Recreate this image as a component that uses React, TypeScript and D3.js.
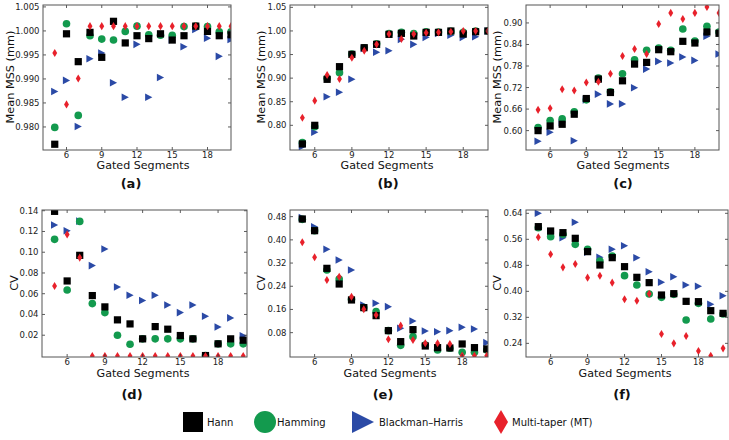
import React from "react";
import * as d3 from "d3";

const segments = [5, 6, 7, 8, 9, 10, 11, 12, 13, 14, 15, 16, 17, 18, 19, 20];
const xTicks = [6, 9, 12, 15, 18];

const seriesNames = ["Hann", "Hamming", "Blackman\u2013Harris", "Multi-taper (MT)"];

// (a) Mean MSS
const aHann = [0.9764, 0.9994, 0.9936, 0.9997, 0.9945, 1.002, 0.9975, 0.999, 0.9984, 0.9994, 0.9981, 0.999, 1.001, 0.9999, 0.999, 0.9992];
const aHamming = [0.9799, 1.0015, 0.9824, 0.999, 0.9983, 0.9981, 0.9999, 1.001, 0.9992, 0.9991, 0.9991, 1.0009, 1.001, 1.0009, 0.9998, 0.9998];
const aBH = [0.9874, 0.9897, 0.9801, 0.9942, 0.9954, 0.9892, 0.9862, 0.9972, 0.9862, 0.9903, 0.9981, 0.9967, 1.0003, 0.9985, 0.9947, 0.9982];
const aMT = [0.9954, 0.9847, 0.9901, 1.001, 1.001, 1.001, 1.001, 1.001, 1.001, 1.001, 1.001, 1.001, 1.001, 1.001, 1.001, 1.001];
const aTicks = [0.98, 0.985, 0.99, 0.995, 1.0, 1.005];

// (b) Mean MSS
const bHann = [0.7605, 0.8, 0.8975, 0.9243, 0.9504, 0.9645, 0.9716, 0.9928, 0.9949, 0.9893, 0.997, 0.997, 0.9999, 0.9935, 0.9984, 0.9999];
const bHamming = [0.7633, 0.7972, 0.8996, 0.9116, 0.9511, 0.9645, 0.973, 0.9942, 0.997, 0.9942, 0.9984, 0.9977, 0.9991, 0.997, 0.9999, 0.9999];
const bBH = [0.7548, 0.7852, 0.8607, 0.8699, 0.8975, 0.9631, 0.9547, 0.9582, 0.9822, 0.9716, 0.9864, 0.9949, 0.9907, 0.9864, 0.9879, 0.9999];
const bMT = [0.8162, 0.8523, 0.9066, 0.8982, 0.9434, 0.9582, 0.9716, 0.9935, 0.9829, 0.9935, 0.9963, 0.997, 0.9984, 0.9999, 0.9999, 0.9999];
const bTicks = [0.8, 0.85, 0.9, 0.95, 1.0, 1.05];

// (c) Mean MSS
const cHann = [0.6, 0.613, 0.6177, 0.6457, 0.6894, 0.7435, 0.7062, 0.7388, 0.7854, 0.7901, 0.8255, 0.8199, 0.8488, 0.8441, 0.8748, 0.8711];
const cHamming = [0.6084, 0.6279, 0.6326, 0.6522, 0.6857, 0.7463, 0.7081, 0.7584, 0.7975, 0.8236, 0.8301, 0.8236, 0.8832, 0.8497, 0.8907, 0.8748];
const cBH = [0.5702, 0.5953, 0.6224, 0.572, 0.6857, 0.7016, 0.6745, 0.6745, 0.7193, 0.7714, 0.7929, 0.7882, 0.805, 0.7957, 0.8627, 0.8134];
const cMT = [0.6578, 0.6624, 0.7155, 0.7118, 0.7342, 0.736, 0.7584, 0.8078, 0.8273, 0.8134, 0.8972, 0.928, 0.9112, 0.928, 0.9447, 0.928];
const cTicks = [0.6, 0.66, 0.72, 0.78, 0.84, 0.9];

// (d) CV
const dHann = [0.1394, 0.0723, 0.097, 0.0582, 0.0473, 0.0348, 0.0309, 0.0165, 0.0283, 0.0258, 0.0197, 0.0165, 0.0004, 0.0117, 0.0165, 0.0152];
const dHamming = [0.1124, 0.0636, 0.1297, 0.0505, 0.0418, 0.02, 0.0113, 0.0165, 0.0165, 0.0165, 0.0165, 0.0165, 0.0004, 0.0117, 0.0117, 0.0117];
const dBH = [0.1262, 0.1207, 0.13, 0.0871, 0.1031, 0.0665, 0.0585, 0.0534, 0.0585, 0.0492, 0.0418, 0.0492, 0.0383, 0.028, 0.0367, 0.0194];
const dMT = [0.0675, 0.1172, 0.0948, 0, 0, 0, 0, 0, 0, 0, 0, 0, 0, 0, 0, 0];
const dTicks = [0.02, 0.04, 0.06, 0.08, 0.1, 0.12, 0.14];

// (e) CV
const eHann = [0.472, 0.4317, 0.3018, 0.2478, 0.1927, 0.1662, 0.1386, 0.0869, 0.049, 0.0904, 0.034, 0.0283, 0.0271, 0.0409, 0.0283, 0.0237];
const eHamming = [0.4708, 0.4317, 0.2961, 0.2651, 0.195, 0.1662, 0.1524, 0.0869, 0.0363, 0.0662, 0.0375, 0.0202, 0.026, 0.012, 0.0122, 0.0202];
const eBH = [0.4766, 0.4455, 0.3674, 0.3306, 0.2961, 0.1754, 0.1812, 0.1697, 0.0949, 0.1202, 0.0857, 0.0834, 0.0869, 0.0984, 0.0927, 0.0455];
const eMT = [0.3915, 0.3398, 0.2616, 0.2731, 0.2041, 0.1605, 0.1409, 0.057, 0.1042, 0.0547, 0.0432, 0.0432, 0.0409, 0.0007, 0.0, 0.0];
const eTicks = [0.08, 0.16, 0.24, 0.32, 0.4, 0.48];

// (f) CV
const fHann = [0.599, 0.5856, 0.5805, 0.5631, 0.5221, 0.481, 0.5036, 0.4759, 0.4431, 0.4267, 0.3887, 0.3928, 0.3692, 0.3682, 0.3405, 0.3323];
const fHamming = [0.5959, 0.5682, 0.5754, 0.5446, 0.5292, 0.4933, 0.5087, 0.4482, 0.4195, 0.3918, 0.3815, 0.3908, 0.3118, 0.3631, 0.3149, 0.3303];
const fBH = [0.64, 0.5836, 0.5651, 0.6123, 0.52, 0.5046, 0.5292, 0.5405, 0.5036, 0.4605, 0.4277, 0.4451, 0.4195, 0.4154, 0.36, 0.3867];
const fMT = [0.5662, 0.5138, 0.4738, 0.4841, 0.4421, 0.4482, 0.4267, 0.3754, 0.3713, 0.3928, 0.2687, 0.24, 0.2626, 0.2164, 0.202, 0.2246];
const fTicks = [0.24, 0.32, 0.4, 0.48, 0.56, 0.64];

const COLORS = ["#000000", "#139a4e", "#2b4aa6", "#e8212b"];
const FONT = "DejaVu Sans, Verdana, sans-serif";

type Panel = {
  id: string;
  label: string;
  yLabel: string;
  series: number[][];
  ticks: number[];
  fmt: string;
  box: [number, number, number, number]; // left, right, top, bottom
  xMax: number;
  yDom: [number, number];
  yLabelX: number;
  yLabelY: number;
  xLabelCx: number;
  xLabelY: number;
  pLabelCx: number;
  pLabelY: number;
};

const panels: Panel[] = [
  { id: "a", label: "(a)", yLabel: "Mean MSS (mm)", series: [aHann, aHamming, aBH, aMT], ticks: aTicks, fmt: ".3f",
    box: [43, 231, 5, 150], xMax: 20, yDom: [0.9752, 1.0054], yLabelX: 14, yLabelY: 77, xLabelCx: 143, xLabelY: 168.5, pLabelCx: 131, pLabelY: 188 },
  { id: "b", label: "(b)", yLabel: "Mean MSS (mm)", series: [bHann, bHamming, bBH, bMT], ticks: bTicks, fmt: ".2f",
    box: [290, 488, 5, 150], xMax: 20, yDom: [0.7477, 1.055], yLabelX: 265, yLabelY: 77, xLabelCx: 387, xLabelY: 168.5, pLabelCx: 388, pLabelY: 188 },
  { id: "c", label: "(c)", yLabel: "Mean MSS (mm)", series: [cHann, cHamming, cBH, cMT], ticks: cTicks, fmt: ".2f",
    box: [526, 719, 5, 150], xMax: 20, yDom: [0.546, 0.95], yLabelX: 501, yLabelY: 77, xLabelCx: 623, xLabelY: 168.5, pLabelCx: 623, pLabelY: 188 },
  { id: "d", label: "(d)", yLabel: "CV", series: [dHann, dHamming, dBH, dMT], ticks: dTicks, fmt: ".2f",
    box: [42, 247, 210, 357], xMax: 20.3, yDom: [-0.001, 0.1407], yLabelX: 17.5, yLabelY: 283, xLabelCx: 143, xLabelY: 376.5, pLabelCx: 132, pLabelY: 399 },
  { id: "e", label: "(e)", yLabel: "CV", series: [eHann, eHamming, eBH, eMT], ticks: eTicks, fmt: ".2f",
    box: [290, 488, 210, 357], xMax: 20.1, yDom: [-0.004, 0.503], yLabelX: 265, yLabelY: 283, xLabelCx: 390, xLabelY: 376.5, pLabelCx: 383, pLabelY: 399 },
  { id: "f", label: "(f)", yLabel: "CV", series: [fHann, fHamming, fBH, fMT], ticks: fTicks, fmt: ".2f",
    box: [526, 728, 210, 357], xMax: 20.4, yDom: [0.198, 0.6502], yLabelX: 501, yLabelY: 283, xLabelCx: 625, xLabelY: 376.5, pLabelCx: 622, pLabelY: 399 },
];

function marker(kind: number, x: number, y: number, s: number, key: string) {
  const c = COLORS[kind];
  if (kind === 0) return <rect key={key} x={x - s / 2} y={y - s / 2} width={s} height={s} fill={c} />;
  if (kind === 1) return <circle key={key} cx={x} cy={y} r={s * 0.53} fill={c} />;
  if (kind === 2) {
    const w = s * 1.0, h = s * 1.05;
    return <path key={key} d={`M${x - w / 2},${y - h / 2}L${x + w / 2},${y}L${x - w / 2},${y + h / 2}Z`} fill={c} />;
  }
  const w = s * 0.68, h = s * 1.12;
  return <path key={key} d={`M${x},${y - h / 2}L${x + w / 2},${y}L${x},${y + h / 2}L${x - w / 2},${y}Z`} fill={c} />;
}

const drawOrder = [2, 1, 0, 3];

function PanelView({ p }: { p: Panel }) {
  const [l, r, t, b] = p.box;
  const x = d3.scaleLinear().domain([4, p.xMax]).range([l, r]);
  const y = d3.scaleLinear().domain(p.yDom).range([b, t]);
  const f = d3.format(p.fmt);
  const tl = 3;
  return (
    <g>
      <defs>
        <clipPath id={`clip-${p.id}`}>
          <rect x={l} y={t} width={r - l} height={b - t} />
        </clipPath>
      </defs>
      <rect x={l} y={t} width={r - l} height={b - t} fill="#fff" />
      <g clipPath={`url(#clip-${p.id})`}>
        {drawOrder.map((k) =>
          p.series[k].map((v, i) => marker(k, x(segments[i]), y(v), 7.2, `${p.id}-${k}-${i}`))
        )}
      </g>
      {xTicks.map((tv) => (
        <g key={`xt${tv}`}>
          <line x1={x(tv)} x2={x(tv)} y1={b} y2={b - tl} stroke="#333" strokeWidth={0.8} />
          <line x1={x(tv)} x2={x(tv)} y1={t} y2={t + tl} stroke="#333" strokeWidth={0.8} />
          <text x={x(tv)} y={b + 7.8} textAnchor="middle" fontSize={8.5} fill="#222" fontFamily={FONT}>{tv}</text>
        </g>
      ))}
      {p.ticks.map((tv) => (
        <g key={`yt${tv}`}>
          <line x1={l} x2={l + tl} y1={y(tv)} y2={y(tv)} stroke="#333" strokeWidth={0.8} />
          <line x1={r} x2={r - tl} y1={y(tv)} y2={y(tv)} stroke="#333" strokeWidth={0.8} />
          <text x={l - 3.5} y={y(tv)} dy="0.35em" textAnchor="end" fontSize={8.5} fill="#222" fontFamily={FONT}>{f(tv)}</text>
        </g>
      ))}
      <rect x={l} y={t} width={r - l} height={b - t} fill="none" stroke="#555" strokeWidth={1} />
      <text x={p.xLabelCx} y={p.xLabelY} textAnchor="middle" fontSize={11.1} fill="#111" fontFamily={FONT}>Gated Segments</text>
      <text transform={`translate(${p.yLabelX},${p.yLabelY}) rotate(-90)`} textAnchor="middle" fontSize={11.3} fill="#111" fontFamily={FONT}>{p.yLabel}</text>
      <text x={p.pLabelCx} y={p.pLabelY} textAnchor="middle" fontSize={13} fontWeight="bold" fill="#111" fontFamily={FONT}>{p.label}</text>
    </g>
  );
}

export default function App() {
  const legendX = [183, 254, 352, 494];
  const textX = [207, 277, 379, 512];
  const ly = 422;
  return (
    <svg width={729} height={440} style={{ position: "absolute", left: 0, top: 0, background: "#fff" }}>
      <rect x={0} y={0} width={729} height={440} fill="#fff" />
      {panels.map((p) => <PanelView key={p.id} p={p} />)}
      <g>
        <rect x={legendX[0]} y={ly - 10} width={20} height={20} fill={COLORS[0]} />
        <circle cx={legendX[1] + 11} cy={ly} r={11} fill={COLORS[1]} />
        <path d={`M${legendX[2]},${ly - 11}L${legendX[2] + 22},${ly}L${legendX[2]},${ly + 11}Z`} fill={COLORS[2]} />
        <path d={`M${legendX[3] + 7},${ly - 12}L${legendX[3] + 14},${ly}L${legendX[3] + 7},${ly + 12}L${legendX[3]},${ly}Z`} fill={COLORS[3]} />
        {seriesNames.map((n, i) => (
          <text key={n} x={textX[i]} y={ly + 4} fontSize={10} fill="#111" fontFamily={FONT}>{n}</text>
        ))}
      </g>
    </svg>
  );
}
